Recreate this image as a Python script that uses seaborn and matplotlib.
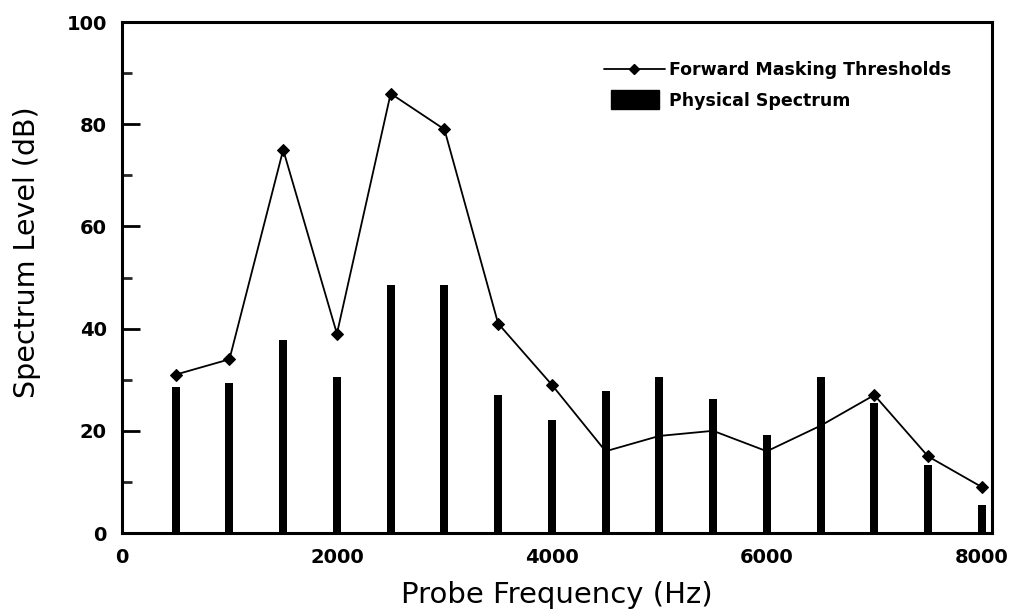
import matplotlib
matplotlib.use("Agg")
import matplotlib.pyplot as plt
from matplotlib.lines import Line2D
from matplotlib.patches import Patch, Rectangle
from matplotlib.legend_handler import HandlerPatch
import seaborn as sns
import pandas as pd

frequencies = [500, 1000, 1500, 2000, 2500, 3000, 3500, 4000,
               4500, 5000, 5500, 6000, 6500, 7000, 7500, 8000]
masking_thresholds = [31, 34, 75, 39, 86, 79, 41, 29,
                      16, 19, 20, 16, 21, 27, 15, 9]
physical_spectrum = [28.5, 29.3, 37.8, 30.6, 48.5, 48.5, 27.1, 22.1,
                     27.8, 30.5, 26.3, 19.2, 30.6, 25.5, 13.4, 5.5]
x_ticks = [0, 2000, 4000, 6000, 8000]
y_ticks = [0, 20, 40, 60, 80, 100]
# points whose markers are not hidden behind the bars in the original
visible_markers = [0, 1, 2, 3, 4, 5, 6, 7, 13, 14, 15]

df = pd.DataFrame({"freq": frequencies,
                   "thr": masking_thresholds,
                   "spec": physical_spectrum})

sns.set_theme(style="ticks")
plt.rcParams["font.family"] = ["DejaVu Sans"]
plt.rcParams["text.color"] = "black"

fig = plt.figure(figsize=(10.19, 6.10), dpi=100)
ax = fig.add_axes([0.1197, 0.1262, 0.8538, 0.8377])

sns.lineplot(data=df, x="freq", y="thr", ax=ax, color="black", lw=1.3,
             marker="D", markersize=6, markeredgecolor="black",
             markevery=visible_markers)
sns.barplot(data=df, x="freq", y="spec", ax=ax, native_scale=True,
            width=0.15, color="black", saturation=1, edgecolor="black",
            linewidth=0)
for ln in ax.lines:
    ln.set_zorder(2)
for p in ax.patches:
    p.set_zorder(3)

ax.set_xlim(0, 8095)
ax.set_ylim(0, 100)
ax.set_xticks(x_ticks)
ax.set_xticklabels([str(t) for t in x_ticks])
ax.set_yticks(y_ticks)
ax.set_yticklabels([str(t) for t in y_ticks])
ax.set_yticks(range(10, 100, 20), minor=True)

for s in ax.spines.values():
    s.set_visible(True)
    s.set_linewidth(2.2)
    s.set_color("black")
    s.set_zorder(4)

ax.tick_params(axis="y", which="major", direction="in", length=13, width=2,
               pad=11, labelsize=14, colors="black")
ax.tick_params(axis="y", which="minor", direction="in", length=7, width=2)
ax.tick_params(axis="x", which="major", direction="in", length=0, pad=11,
               labelsize=14, colors="black")
for lab in ax.get_xticklabels() + ax.get_yticklabels():
    lab.set_fontweight("bold")

ax.set_xlabel("Probe Frequency (Hz)", fontsize=21, color="black")
ax.set_ylabel("Spectrum Level (dB)", fontsize=20.5, color="black")
ax.xaxis.label.set_va("center")
ax.yaxis.label.set_va("center")
ax.xaxis.set_label_coords(0.5, -0.122)
ax.yaxis.set_label_coords(-0.109, 0.55)


def small_rect(legend, orig_handle, xdescent, ydescent, width, height, fontsize):
    return Rectangle((xdescent + 5, ydescent - 2.5), 34.5, 13.7)


handles = [Line2D([0], [0], color="black", lw=1.3, marker="D", markersize=5.5),
           Patch(facecolor="black", edgecolor="black")]
leg = ax.legend(handles, ["Forward Masking Thresholds", "Physical Spectrum"],
                loc="upper left", bbox_to_anchor=(0.554, 0.923),
                frameon=False, borderaxespad=0, borderpad=0,
                handlelength=3.5, handletextpad=0.25, labelspacing=0.72,
                handler_map={Patch: HandlerPatch(patch_func=small_rect)},
                prop={"family": "DejaVu Sans", "size": 12.5, "weight": "bold"})
for t in leg.get_texts():
    t.set_color("black")

fig.savefig("out.png", dpi=100, facecolor="white")
